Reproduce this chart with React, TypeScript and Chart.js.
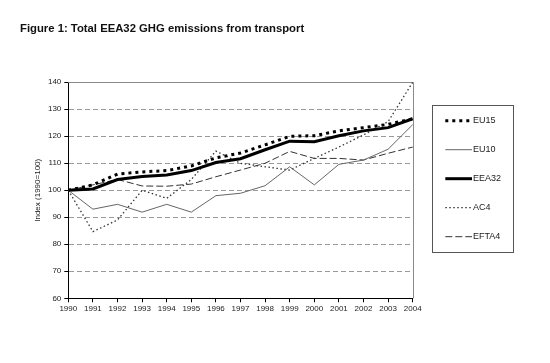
import React, { useEffect, useRef } from "react";
import { Chart, registerables } from "chart.js";

Chart.register(...registerables);

const years = ["1990","1991","1992","1993","1994","1995","1996","1997","1998","1999","2000","2001","2002","2003","2004"];
const eu15 = [100, 102, 106, 106.8, 107.3, 109, 112, 113.8, 116.8, 120, 120.2, 122, 123.2, 124.4, 126.5];
const eu10 = [100, 93, 94.8, 91.9, 94.8, 91.9, 98, 98.9, 101.7, 108.7, 102, 109.6, 111.2, 115.2, 124.3];
const eea32 = [100, 100.5, 104, 105.1, 105.7, 107.3, 110.3, 111.7, 115, 118.2, 118, 120.2, 122, 123.2, 126.5];
const ac4 = [100, 84.7, 89, 100, 97, 104, 114.5, 110, 108.7, 107.5, 111.8, 116, 120.5, 125.4, 140];
const efta4 = [100, 102, 104, 101.6, 101.5, 102.3, 105, 107.5, 110, 114.4, 111.8, 111.8, 111.2, 113.7, 116];
const yTicks = { min: 60, max: 140, step: 10 };

const FONT = '"Liberation Sans", Arial, sans-serif';

const framePlugin = {
  id: "frame",
  beforeDatasetsDraw(chart: any) {
    const { ctx, chartArea } = chart;
    ctx.save();
    ctx.strokeStyle = "#8a8a8a";
    ctx.lineWidth = 1;
    ctx.beginPath();
    ctx.moveTo(chartArea.left, Math.round(chartArea.top) + 0.5);
    ctx.lineTo(Math.round(chartArea.right) + 0.5, Math.round(chartArea.top) + 0.5);
    ctx.lineTo(Math.round(chartArea.right) + 0.5, chartArea.bottom);
    ctx.stroke();
    ctx.restore();
  },
};

const legendPlugin = {
  id: "legendBox",
  afterDraw(chart: any) {
    const { ctx, chartArea } = chart;
    const left = Math.round(chartArea.right + 19);
    const top = Math.round(chartArea.top + 22.7);
    const w = 81;
    const h = 147;
    ctx.save();
    ctx.strokeStyle = "#555";
    ctx.lineWidth = 1;
    ctx.setLineDash([]);
    ctx.strokeRect(left + 0.5, top + 0.5, w, h);
    chart.data.datasets.forEach((ds: any, i: number) => {
      const y = top + 15.7 + i * 29;
      ctx.setLineDash(ds.borderDash || []);
      ctx.lineWidth = ds.borderWidth;
      ctx.strokeStyle = ds.borderColor;
      ctx.beginPath();
      ctx.moveTo(left + 13.3, y);
      ctx.lineTo(left + 40, y);
      ctx.stroke();
      ctx.setLineDash([]);
      ctx.fillStyle = "#222";
      ctx.font = `9px ${FONT}`;
      ctx.textBaseline = "middle";
      ctx.textAlign = "left";
      ctx.fillText(ds.label, left + 41, y);
    });
    ctx.restore();
  },
};

export default function App() {
  const ref = useRef<HTMLCanvasElement | null>(null);
  useEffect(() => {
    document.body.style.margin = "0";
    if (!ref.current) return;
    const chart = new Chart(ref.current, {
      type: "line",
      data: {
        labels: years,
        datasets: [
          { label: "EU15", data: eu15, borderColor: "#000", borderWidth: 3, borderDash: [3, 4] },
          { label: "EU10", data: eu10, borderColor: "#666", borderWidth: 1, borderDash: [] },
          { label: "EEA32", data: eea32, borderColor: "#000", borderWidth: 3, borderDash: [] },
          { label: "AC4", data: ac4, borderColor: "#333", borderWidth: 1.3, borderDash: [1.5, 2.5] },
          { label: "EFTA4", data: efta4, borderColor: "#333", borderWidth: 1, borderDash: [7, 3] },
        ],
      },
      options: {
        animation: false,
        responsive: true,
        maintainAspectRatio: false,
        elements: { point: { radius: 0 }, line: { tension: 0 } },
        layout: { padding: { left: 20, right: 137.3, top: 0, bottom: 34.7 } },
        plugins: {
          legend: { display: false },
          tooltip: { enabled: false },
          title: {
            display: true,
            text: "Figure 1: Total EEA32 GHG emissions from transport",
            align: "start",
            color: "#111",
            font: { family: FONT, size: 11.3, weight: "bold", lineHeight: 1.2 },
            padding: { top: 22.3, bottom: 46.4 },
          },
        },
        scales: {
          x: {
            type: "category",
            offset: false,
            grid: { display: true, drawOnChartArea: false, drawTicks: true, tickLength: 4, tickColor: "#000" },
            border: { display: true, color: "#000", width: 1 },
            ticks: { font: { family: FONT, size: 8 }, color: "#222", padding: 2, maxRotation: 0, autoSkip: false },
            afterFit: (s: any) => { s.height = 30; },
          },
          y: {
            min: yTicks.min,
            max: yTicks.max,
            ticks: { stepSize: yTicks.step, font: { family: FONT, size: 8 }, color: "#222", padding: 3 },
            grid: {
              color: (c: any) => (c.tick && c.tick.value > yTicks.min && c.tick.value < yTicks.max ? "#9a9a9a" : "rgba(0,0,0,0)"),
              tickColor: "#000",
              tickLength: 4,
              lineWidth: 1,
            },
            border: { display: true, color: "#000", width: 1, dash: [5, 3] },
            title: {
              display: true,
              text: "Index (1990=100)",
              font: { family: FONT, size: 8, lineHeight: 1.2 },
              color: "#222",
              padding: { top: 13.2, bottom: 0 },
            },
            afterFit: (s: any) => { s.width = 48.3; },
          },
        },
      },
      plugins: [framePlugin, legendPlugin],
    } as any);
    return () => chart.destroy();
  }, []);
  return (
    <div style={{ width: 550, height: 363, position: "relative" }}>
      <canvas ref={ref} />
    </div>
  );
}
